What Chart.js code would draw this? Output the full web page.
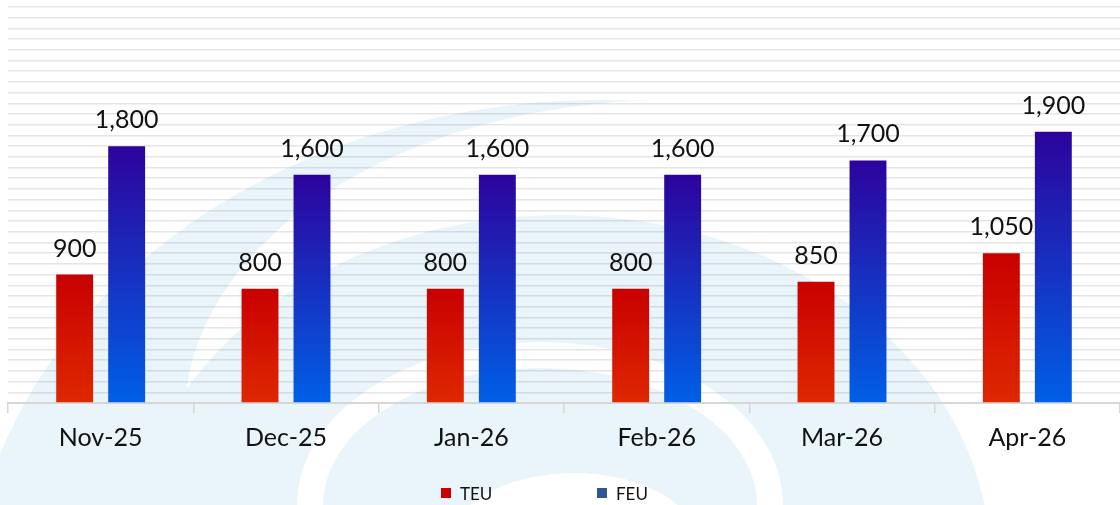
<!DOCTYPE html>
<html>
<head>
<meta charset="utf-8">
<script src="https://cdn.jsdelivr.net/npm/chart.js@4.4.1/dist/chart.umd.min.js"></script>
<style>
  html, body { margin: 0; padding: 0; background: #fff; }
  .wrap { position: relative; width: 1120px; height: 505px; overflow: hidden; }
  #legend { position: absolute; left: 441px; top: 483px; height: 20px; display: flex; font: 17px Lato, sans-serif; color: #111; }
  .item { display: flex; align-items: center; width: 156px; height: 20px; }
  .box { width: 10px; height: 10px; margin-right: 9px; box-sizing: border-box; }
</style>
</head>
<body>
<div class="wrap">
  <canvas id="c" style="width:1120px;height:505px"></canvas>
  <div id="legend"></div>
</div>
<script>
// data
const categories = ["Nov-25", "Dec-25", "Jan-26", "Feb-26", "Mar-26", "Apr-26"];
const teuValues = [900, 800, 800, 800, 850, 1050];
const feuValues = [1800, 1600, 1600, 1600, 1700, 1900];
const seriesNames = ["TEU", "FEU"];
const legendColors = ["#cc0000", "#2f5597"];
const yMax = 2775;
const yStep = 75;

// gradient per bar: dark at the top, lighter at the base
function barGradient(top, bottom) {
    return function (context) {
        const chart = context.chart;
        const y = chart.scales.y;
        if (!chart.chartArea || !y || context.raw == null) return top;
        const g = chart.ctx.createLinearGradient(0, y.getPixelForValue(context.raw), 0, y.getPixelForValue(0));
        g.addColorStop(0, top);
        g.addColorStop(1, bottom);
        return g;
    };
}

// pale logo arcs behind the chart
const watermark = {
    id: "watermark",
    beforeDraw(chart) {
        const ctx = chart.ctx;
        ctx.save();
        ctx.fillStyle = "#eaf4fb";
        // outer crescent
        ctx.beginPath();
        ctx.ellipse(600, 620, 633, 520, 0, 3.335, 4.78, false);
        ctx.ellipse(672, 415, 487, 315, 0, 4.653, 2.80, true);
        ctx.closePath();
        ctx.fill();
        // big arc
        ctx.beginPath();
        ctx.ellipse(560, 560, 430, 345, 0, 0, Math.PI * 2);
        ctx.fill();
        // white swoosh inside
        ctx.strokeStyle = "#ffffff";
        ctx.lineWidth = 26;
        ctx.beginPath();
        ctx.ellipse(540, 505, 230, 150, 0, 0, Math.PI * 2);
        ctx.stroke();
        // white dome
        ctx.fillStyle = "#ffffff";
        ctx.beginPath();
        ctx.ellipse(574, 545, 125, 72, 0, 0, Math.PI * 2);
        ctx.fill();
        ctx.restore();
    }
};

// numbers above the bars
const valueLabels = {
    id: "valueLabels",
    afterDatasetsDraw(chart) {
        const ctx = chart.ctx;
        ctx.save();
        ctx.font = "25px Lato";
        ctx.fillStyle = "#111";
        ctx.textAlign = "center";
        ctx.textBaseline = "alphabetic";
        chart.data.datasets.forEach((ds, i) => {
            chart.getDatasetMeta(i).data.forEach((bar, j) => {
                ctx.fillText(ds.data[j].toLocaleString("en-US"), bar.x, bar.y - 18);
            });
        });
        ctx.restore();
    }
};

const common = { barPercentage: 0.71, categoryPercentage: 0.561, borderWidth: 0 };

new Chart(document.getElementById("c"), {
    type: "bar",
    data: {
        labels: categories,
        datasets: [
            Object.assign({ label: seriesNames[0], data: teuValues, backgroundColor: barGradient("#c90000", "#de2800") }, common),
            Object.assign({ label: seriesNames[1], data: feuValues, backgroundColor: barGradient("#2d039c", "#005fe6") }, common)
        ]
    },
    options: {
        responsive: false,
        animation: false,
        layout: { padding: { top: 7, left: 8, right: 0, bottom: 42 } },
        plugins: {
            legend: { display: false },
            tooltip: { enabled: false }
        },
        scales: {
            x: {
                grid: { drawOnChartArea: false, drawTicks: true, tickLength: 10, color: "#d6d6d6", lineWidth: 1.5 },
                border: { display: true, color: "#d6d6d6", width: 2 },
                ticks: { color: "#111", font: { family: "Lato", size: 25 }, padding: 10 }
            },
            y: {
                min: 0,
                max: yMax,
                ticks: { display: false, stepSize: yStep, maxTicksLimit: 100 },
                grid: { color: "rgba(0,0,0,0.1)", drawTicks: false, lineWidth: 1.5 },
                border: { display: false }
            }
        }
    },
    plugins: [watermark, valueLabels]
});

// legend
const legend = document.getElementById("legend");
seriesNames.forEach((name, i) => {
    const item = document.createElement("div");
    item.className = "item";
    const box = document.createElement("span");
    box.className = "box";
    box.style.background = legendColors[i];
    const txt = document.createElement("span");
    txt.textContent = name;
    item.appendChild(box);
    item.appendChild(txt);
    legend.appendChild(item);
});
</script>
</body>
</html>
